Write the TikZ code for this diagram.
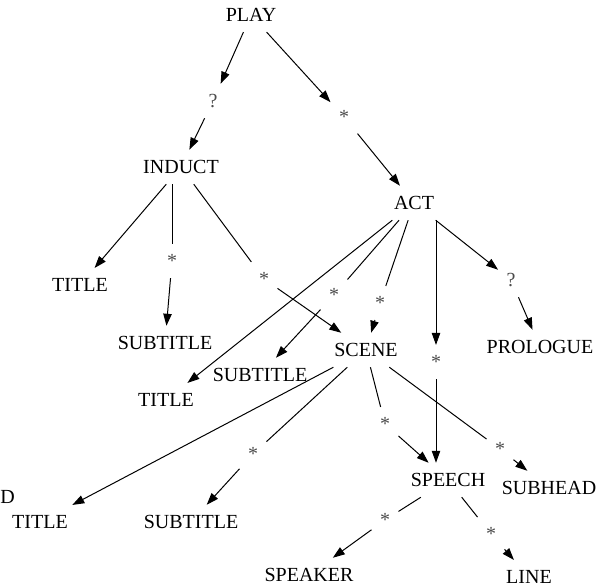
\documentclass[tikz,border=0pt]{standalone}
\usepackage{fontspec}
\setmainfont{Liberation Serif}
\usetikzlibrary{arrows.meta}
\begin{document}
\begin{tikzpicture}[x=0.5pt, y=-0.5pt, line width=0.5pt,
	every node/.style={inner xsep=4pt, inner ysep=5pt, font=\fontsize{10}{12}\selectfont},
	mult/.style={text=black!70},
	arr/.style={-{Triangle[length=6pt, width=4.2pt]}}]
		\useasboundingbox (0,0) rectangle (605,587);
		
		% elements
		\node at (251,15) (play) {PLAY};
		\node at (181,167) (induct) {INDUCT};
		\node at (414,203) (act) {ACT};
		\node at (80,285) (titleA) {TITLE};
		\node at (165,343) (subtitleA) {SUBTITLE};
		\node at (366,350) (scene) {SCENE};
		\node at (540,347) (prologue) {PROLOGUE};
		\node at (260,375) (subtitleB) {SUBTITLE};
		\node at (166,400) (titleB) {TITLE};
		\node at (7.5,497) (subheadX) {D};
		\node at (40,522) (titleC) {TITLE};
		\node at (191,522) (subtitleC) {SUBTITLE};
		\node at (448,480) (speech) {SPEECH};
		\node at (549,488) (subhead) {SUBHEAD};
		\node at (309,575) (speaker) {SPEAKER};
		\node at (529,577) (line) {LINE};
		
		% occurrence marks
		\node[mult] at (213,101) (qInduct) {?};
		\node[mult] at (344,117) (sAct) {*};
		\node[mult] at (172,261) (sSubA) {*};
		\node[mult] at (264,279) (sSceneA) {*};
		\node[mult] at (334,295) (sSubB) {*};
		\node[mult] at (380,303) (sSceneB) {*};
		\node[mult] at (511,280) (qPrologue) {?};
		\node[mult] at (436,362) (sSpeechA) {*};
		\node[mult] at (253,454) (sSubC) {*};
		\node[mult] at (385,424) (sSpeechB) {*};
		\node[mult] at (500,449) (sSubhead) {*};
		\node[mult] at (385,520) (sSpeaker) {*};
		\node[mult] at (491,534) (sLine) {*};
		
		\draw[arr] (play) -- (qInduct);
		\draw[arr] (qInduct) -- (induct);
		\draw[arr] (play) -- (sAct);
		\draw[arr] (sAct) -- (act);
		
		\draw[arr] (induct) -- (titleA);
		\draw (induct.south -| sSubA) -- (sSubA);
		\draw[arr] (sSubA) -- (subtitleA);
		\draw (induct) -- (sSceneA);
		\draw[arr] (sSceneA) -- (scene);
		
		\draw[arr] (act) -- (titleB);
		\draw (act) -- (sSubB);
		\draw[arr] (sSubB) -- (subtitleB);
		\draw (act) -- (sSceneB);
		\draw[arr] (sSceneB) -- (scene);
		\draw[arr] (act.south -| sSpeechA) -- (sSpeechA);
		\draw[arr] (sSpeechA) -- (sSpeechA |- speech.north);
		\draw[arr] (act) -- (qPrologue);
		\draw[arr] (qPrologue) -- (prologue);
		
		\draw[arr] (scene) -- (titleC);
		\draw (scene) -- (sSubC);
		\draw[arr] (sSubC) -- (subtitleC);
		\draw (scene) -- (sSpeechB);
		\draw[arr] (sSpeechB) -- (speech);
		\draw (scene) -- (sSubhead);
		\draw[arr] (sSubhead) -- (subhead);
		
		\draw (speech) -- (sSpeaker);
		\draw[arr] (sSpeaker) -- (speaker);
		\draw (speech) -- (sLine);
		\draw[arr] (sLine) -- (line);
\end{tikzpicture}
\end{document}
